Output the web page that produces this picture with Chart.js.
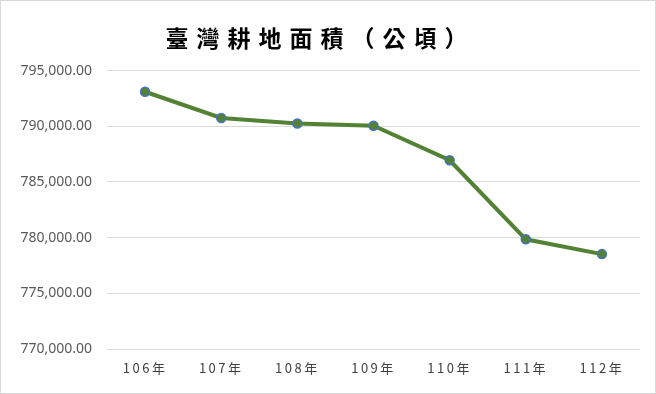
<!DOCTYPE html>
<html>
<head>
<meta charset="utf-8">
<script src="https://cdn.jsdelivr.net/npm/chart.js@4"></script>
<style>
    html, body { margin: 0; padding: 0; background: #fff; }
    #wrap {
        width: 656px; height: 394px; box-sizing: border-box;
        border: 1px solid #d9d9d9; position: relative;
    }
</style>
</head>
<body>
<div id="wrap"><canvas id="areaChart"></canvas></div>
<script>
// data
const years = ['106年', '107年', '108年', '109年', '110年', '111年', '112年'];
const areaValues = [793100, 790750, 790250, 790050, 786950, 779850, 778520];
const yMin = 770000;
const yMax = 795000;
const yStep = 5000;

// letter spacing for x labels and the title (Chart.js has no option for it)
const spacingPlugin = {
    id: 'spacing',
    afterUpdate(chart) {
        const ctx = chart.ctx;
        const x = chart.scales.x;
        if (x && !x._spaced) {
            const orig = x.drawLabels;
            x.drawLabels = function(area) {
                ctx.letterSpacing = '2.5px';
                orig.call(this, area);
                ctx.letterSpacing = '0px';
            };
            x._spaced = true;
        }
        const tb = chart.titleBlock;
        if (tb && !tb._spaced) {
            const origDraw = tb.draw;
            tb.draw = function(area) {
                ctx.letterSpacing = '8px';
                origDraw.call(this, area);
                ctx.letterSpacing = '0px';
            };
            tb._spaced = true;
        }
    }
};

const ctx = document.getElementById('areaChart').getContext('2d');
new Chart(ctx, {
    type: 'line',
    data: {
        labels: years,
        datasets: [{
            label: '耕地面積',
            data: areaValues,
            borderColor: '#548235',
            borderWidth: 4,
            backgroundColor: '#548235',
            pointBackgroundColor: '#548235',
            pointBorderColor: '#4472C4',
            pointBorderWidth: 1.5,
            pointRadius: 4.5,
            tension: 0
        }]
    },
    options: {
        responsive: true,
        maintainAspectRatio: false,
        animation: false,
        layout: {
            padding: { top: 0, right: 15, bottom: 0, left: 0 }
        },
        plugins: {
            legend: { display: false },
            tooltip: { enabled: false },
            title: {
                display: true,
                text: '臺灣耕地面積（公頃）',
                color: '#000',
                font: { family: '"Noto Sans CJK TC", sans-serif', size: 23, weight: 'bold' },
                padding: { top: 23, bottom: 19 }
            }
        },
        scales: {
            x: {
                offset: true,
                grid: { display: false },
                border: { display: false },
                ticks: {
                    color: '#404040',
                    padding: 3,
                    font: { family: '"Noto Sans CJK TC", sans-serif', size: 13 }
                },
                afterFit(scale) { scale.height = 44; }
            },
            y: {
                min: yMin,
                max: yMax,
                border: { display: false },
                grid: { color: '#d9d9d9', lineWidth: 1, drawTicks: false },
                ticks: {
                    stepSize: yStep,
                    color: '#595959',
                    padding: 15,
                    font: { family: '"Noto Sans", sans-serif', size: 14 },
                    callback: v => v.toLocaleString('en-US', { minimumFractionDigits: 2, maximumFractionDigits: 2 })
                },
                afterFit(scale) { scale.width = 106; }
            }
        }
    },
    plugins: [spacingPlugin]
});
</script>
</body>
</html>
